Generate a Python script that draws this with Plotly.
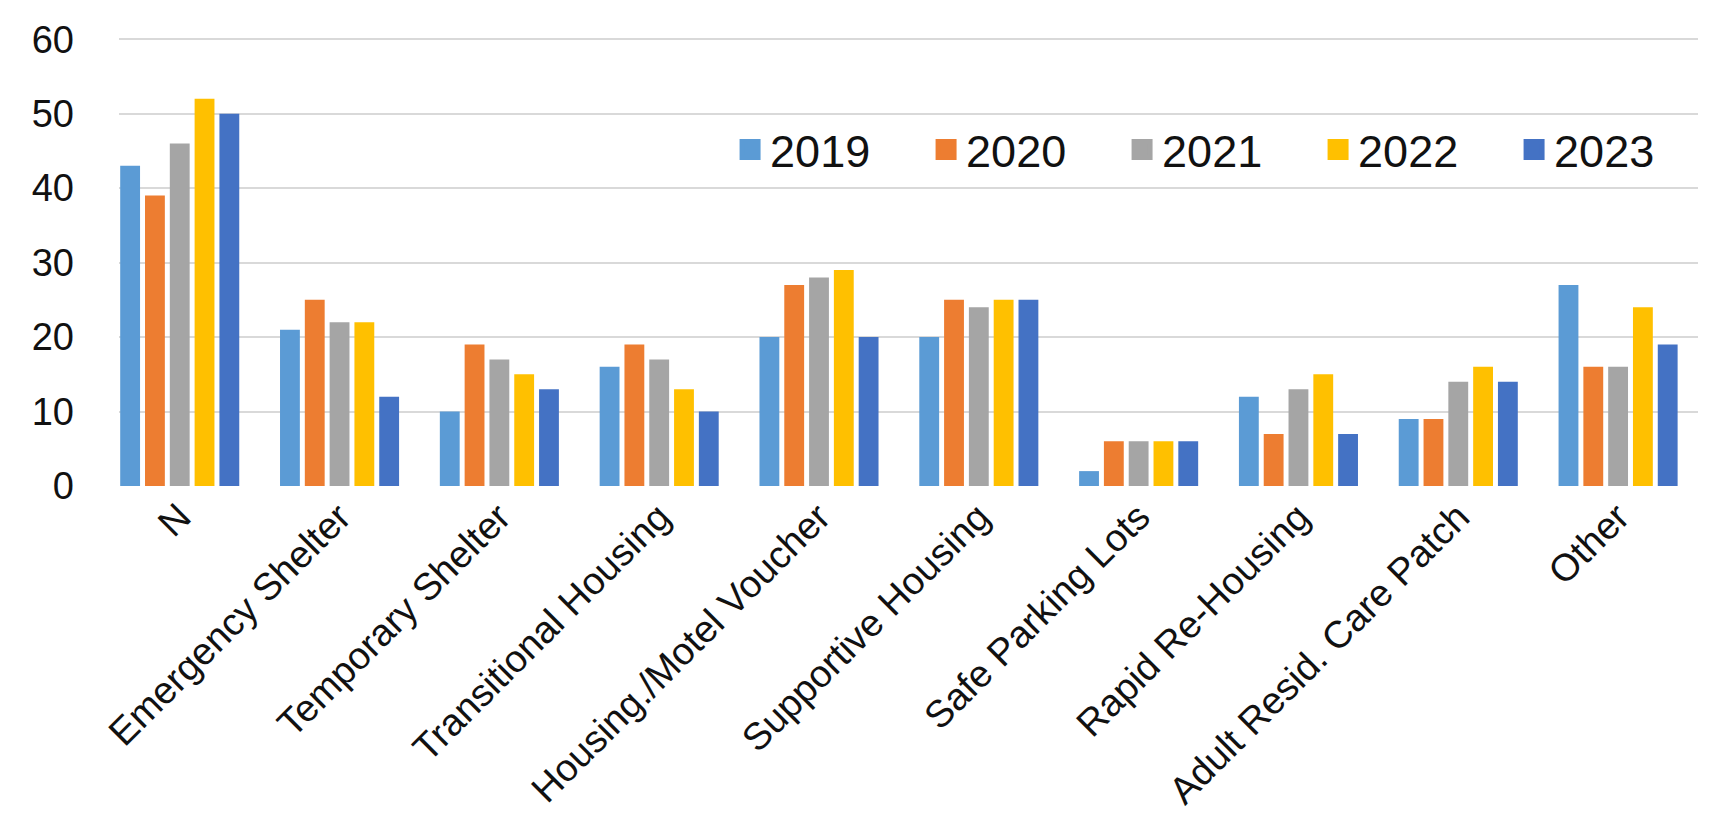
import plotly.graph_objects as go

categories = ["N", "Emergency Shelter", "Temporary Shelter", "Transitional Housing",
              "Housing./Motel Voucher", "Supportive Housing", "Safe Parking Lots",
              "Rapid Re-Housing", "Adult Resid. Care Patch", "Other"]
years = ["2019", "2020", "2021", "2022", "2023"]
v2019 = [43, 21, 10, 16, 20, 20, 2, 12, 9, 27]
v2020 = [39, 25, 19, 19, 27, 25, 6, 7, 9, 16]
v2021 = [46, 22, 17, 17, 28, 24, 6, 13, 14, 16]
v2022 = [52, 22, 15, 13, 29, 25, 6, 15, 16, 24]
v2023 = [50, 12, 13, 10, 20, 25, 6, 7, 14, 19]
series = [v2019, v2020, v2021, v2022, v2023]
colors = ["#5B9BD5", "#ED7D31", "#A5A5A5", "#FFC000", "#4472C4"]
y_ticks = [0, 10, 20, 30, 40, 50, 60]

fig = go.Figure()
for name, vals, col in zip(years, series, colors):
    fig.add_trace(go.Bar(name=name, x=categories, y=vals, marker_color=col,
                         marker_line_width=0, showlegend=False, legendgroup=name))
# legend entries with larger square swatches
for name, col in zip(years, colors):
    fig.add_trace(go.Scatter(name=name, x=[None], y=[None], mode="markers",
                             legendgroup=name,
                             marker=dict(symbol="square", size=16, color=col,
                                         line=dict(color=col, width=5))))

fig.update_layout(
    width=1713, height=822,
    margin=dict(l=111, r=11, t=23, b=344),
    paper_bgcolor="white", plot_bgcolor="white",
    font=dict(family="Liberation Sans, Arial, sans-serif", color="#111111"),
    barmode="group", bargap=0.224, bargroupgap=0.2,
    showlegend=True,
    legend=dict(orientation="h", x=0.387, xanchor="left", y=0.749, yanchor="middle",
                font=dict(size=45), bgcolor="rgba(0,0,0,0)",
                entrywidth=151, entrywidthmode="pixels", traceorder="normal"),
)
fig.update_xaxes(tickangle=-45, tickfont=dict(size=38), showgrid=False,
                 showline=False, ticks="", range=[-0.38, 9.5])
fig.update_yaxes(range=[0, 60.3], tickvals=y_ticks, tickfont=dict(size=38),
                 showgrid=True, gridcolor="#D9D9D9", gridwidth=1.5,
                 zeroline=False, showline=False, ticks="", ticklabelstandoff=44)

fig.write_html("out.html")
